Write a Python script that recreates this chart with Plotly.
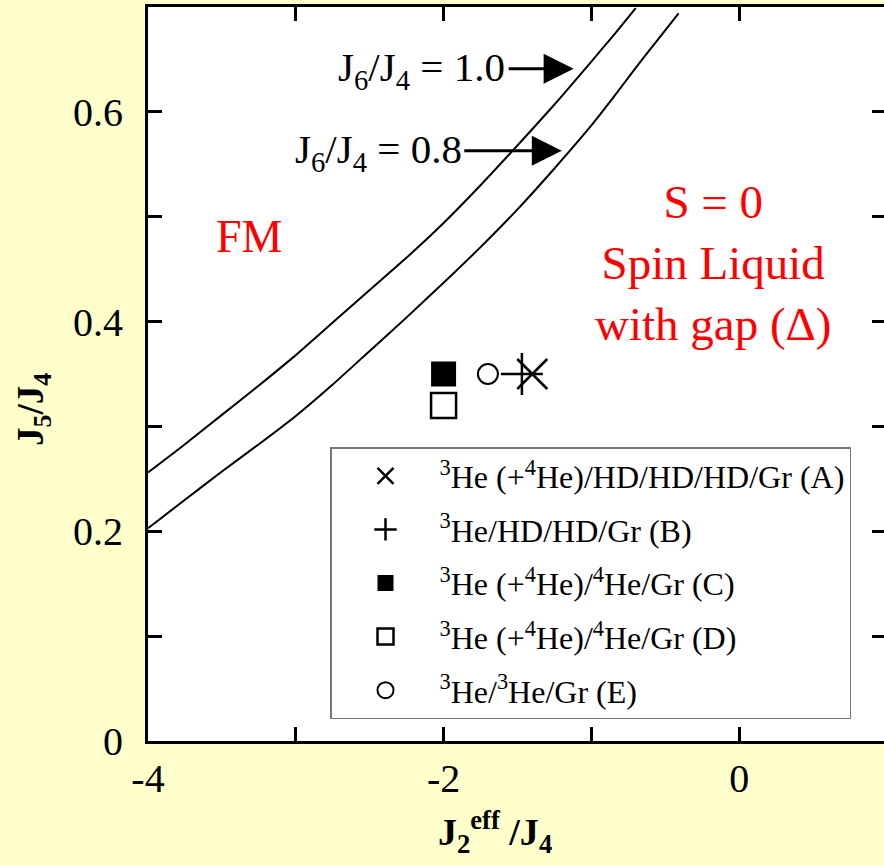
import plotly.graph_objects as go

# ---------------- data ----------------
# phase boundary J6/J4 = 1.0
b10_x = [-4.0, -3.75, -3.5, -3.25, -3.0, -2.75, -2.5, -2.25, -2.0, -1.75, -1.5, -1.25, -1.0, -0.85, -0.70]
b10_y = [0.256, 0.283, 0.311, 0.339, 0.368, 0.399, 0.430, 0.461, 0.494, 0.530, 0.568, 0.607, 0.648, 0.673, 0.699]
# phase boundary J6/J4 = 0.8
b08_x = [-4.0, -3.75, -3.5, -3.25, -3.0, -2.75, -2.5, -2.25, -2.0, -1.75, -1.5, -1.25, -1.0, -0.85, -0.70, -0.55, -0.41]
b08_y = [0.203, 0.230, 0.257, 0.283, 0.310, 0.340, 0.372, 0.404, 0.437, 0.471, 0.507, 0.546, 0.587, 0.614, 0.642, 0.669, 0.694]

# experimental points
sample_names = [
    "<sup>3</sup>He (+<sup>4</sup>He)/HD/HD/HD/Gr (A)",
    "<sup>3</sup>He/HD/HD/Gr (B)",
    "<sup>3</sup>He (+<sup>4</sup>He)/<sup>4</sup>He/Gr (C)",
    "<sup>3</sup>He (+<sup>4</sup>He)/<sup>4</sup>He/Gr (D)",
    "<sup>3</sup>He/<sup>3</sup>He/Gr (E)",
]
sample_x = [-1.40, -1.47, -2.00, -2.00, -1.70]
sample_y = [0.35, 0.35, 0.35, 0.32, 0.35]

x_tickvals = [-4, -3, -2, -1, 0]
x_ticktext = ["-4", "", "-2", "", "0"]
y_tickvals = [0, 0.1, 0.2, 0.3, 0.4, 0.5, 0.6]
y_ticktext = ["0", "", "0.2", "", "0.4", "", "0.6"]
y_right_ticks = [0.1, 0.2, 0.3, 0.4, 0.5, 0.6]

# ---------------- styles ----------------
FONT = "Liberation Serif, Times New Roman, serif"
sym = [
    dict(symbol="x-thin-open", size=30, color="black", line=dict(width=2.5, color="black")),
    dict(symbol="cross-thin-open", size=30, color="black", line=dict(width=2.5, color="black")),
    dict(symbol="square", size=25, color="black", line=dict(width=0, color="black")),
    dict(symbol="square-open", size=25, color="black", line=dict(width=2.5, color="black")),
    dict(symbol="circle-open", size=20, color="black", line=dict(width=2, color="black")),
]

fig = go.Figure()
for bx, by in ((b10_x, b10_y), (b08_x, b08_y)):
    fig.add_trace(go.Scatter(x=bx, y=by, mode="lines",
                             line=dict(color="black", width=2, shape="spline", smoothing=0.6),
                             showlegend=False, hoverinfo="skip"))

for i, name in enumerate(sample_names):
    fig.add_trace(go.Scatter(x=[sample_x[i]], y=[sample_y[i]], mode="markers", name=name,
                             marker=sym[i], legendgroup=f"g{i}"))

# invisible trace for the right-hand tick axis
fig.add_trace(go.Scatter(x=[None], y=[None], yaxis="y2", showlegend=False, hoverinfo="skip"))

red = "#FF0000"
ann = [
    dict(x=-3.32, y=0.481, text="FM", showarrow=False, font=dict(size=46, color=red, family=FONT)),
    dict(x=-0.176, y=0.456, text="S = 0<br>Spin Liquid<br>with gap (Δ)", showarrow=False,
         font=dict(size=47, color=red, family=FONT), align="center"),
    dict(x=-1.57, y=0.640, xanchor="right", yanchor="middle", text="J<sub>6</sub>/J<sub>4</sub> = 1.0",
         showarrow=False, font=dict(size=41, color="black", family=FONT)),
    dict(x=-1.86, y=0.562, xanchor="right", yanchor="middle", text="J<sub>6</sub>/J<sub>4</sub> = 0.8",
         showarrow=False, font=dict(size=41, color="black", family=FONT)),
    dict(x=-1.12, y=0.641, ax=-1.57, ay=0.641, axref="x", ayref="y", text="", showarrow=True,
         arrowhead=2, arrowsize=2.0, arrowwidth=3, arrowcolor="black"),
    dict(x=-1.20, y=0.563, ax=-1.87, ay=0.563, axref="x", ayref="y", text="", showarrow=True,
         arrowhead=2, arrowsize=2.0, arrowwidth=3, arrowcolor="black"),
    # axis titles
    dict(xref="paper", yref="paper", x=(495 - 148) / 736, y=(741 - 832) / 734,
         xanchor="center", yanchor="middle",
         text="<b>J<sub>2</sub><sup>eff</sup> /J<sub>4</sub></b>", showarrow=False,
         font=dict(size=38, color="black", family=FONT)),
    dict(xref="paper", yref="paper", x=(33 - 148) / 736, y=(741 - 410) / 734, textangle=-90,
         xanchor="center", yanchor="middle",
         text="<b>J<sub>5</sub>/J<sub>4</sub></b>", showarrow=False,
         font=dict(size=37, color="black", family=FONT)),
]

fig.update_layout(
    width=884, height=865,
    margin=dict(l=148, r=0, t=7, b=124),
    paper_bgcolor="#FFFFCC", plot_bgcolor="white",
    font=dict(family=FONT, color="black", size=40),
    annotations=ann,
    xaxis=dict(range=[-4, 0.98], showline=True, linewidth=3, linecolor="black", mirror="ticks",
               ticks="inside", ticklen=14, tickwidth=3, tickcolor="black",
               tickvals=x_tickvals, ticktext=x_ticktext, ticklabelstandoff=0,
               showgrid=False, zeroline=False, tickfont=dict(size=40)),
    yaxis=dict(range=[0, 0.7], showline=True, linewidth=3, linecolor="black",
               ticks="inside", ticklen=14, tickwidth=3, tickcolor="black",
               tickvals=y_tickvals, ticktext=y_ticktext, ticklabelstandoff=14,
               showgrid=False, zeroline=False, tickfont=dict(size=40)),
    yaxis2=dict(range=[0, 0.7], overlaying="y", side="right", anchor="x", showline=False,
                ticks="inside", ticklen=12, tickwidth=3, tickcolor="black",
                tickvals=y_right_ticks, showticklabels=False, showgrid=False, zeroline=False),
    legend=dict(x=(330 - 148) / 736, y=(741 - 447) / 734, xanchor="left", yanchor="top",
                bgcolor="white", bordercolor="#777777", borderwidth=1.5,
                font=dict(size=32, family=FONT), tracegroupgap=9, itemwidth=98),
    showlegend=True,
)

fig.write_html("out.html")
